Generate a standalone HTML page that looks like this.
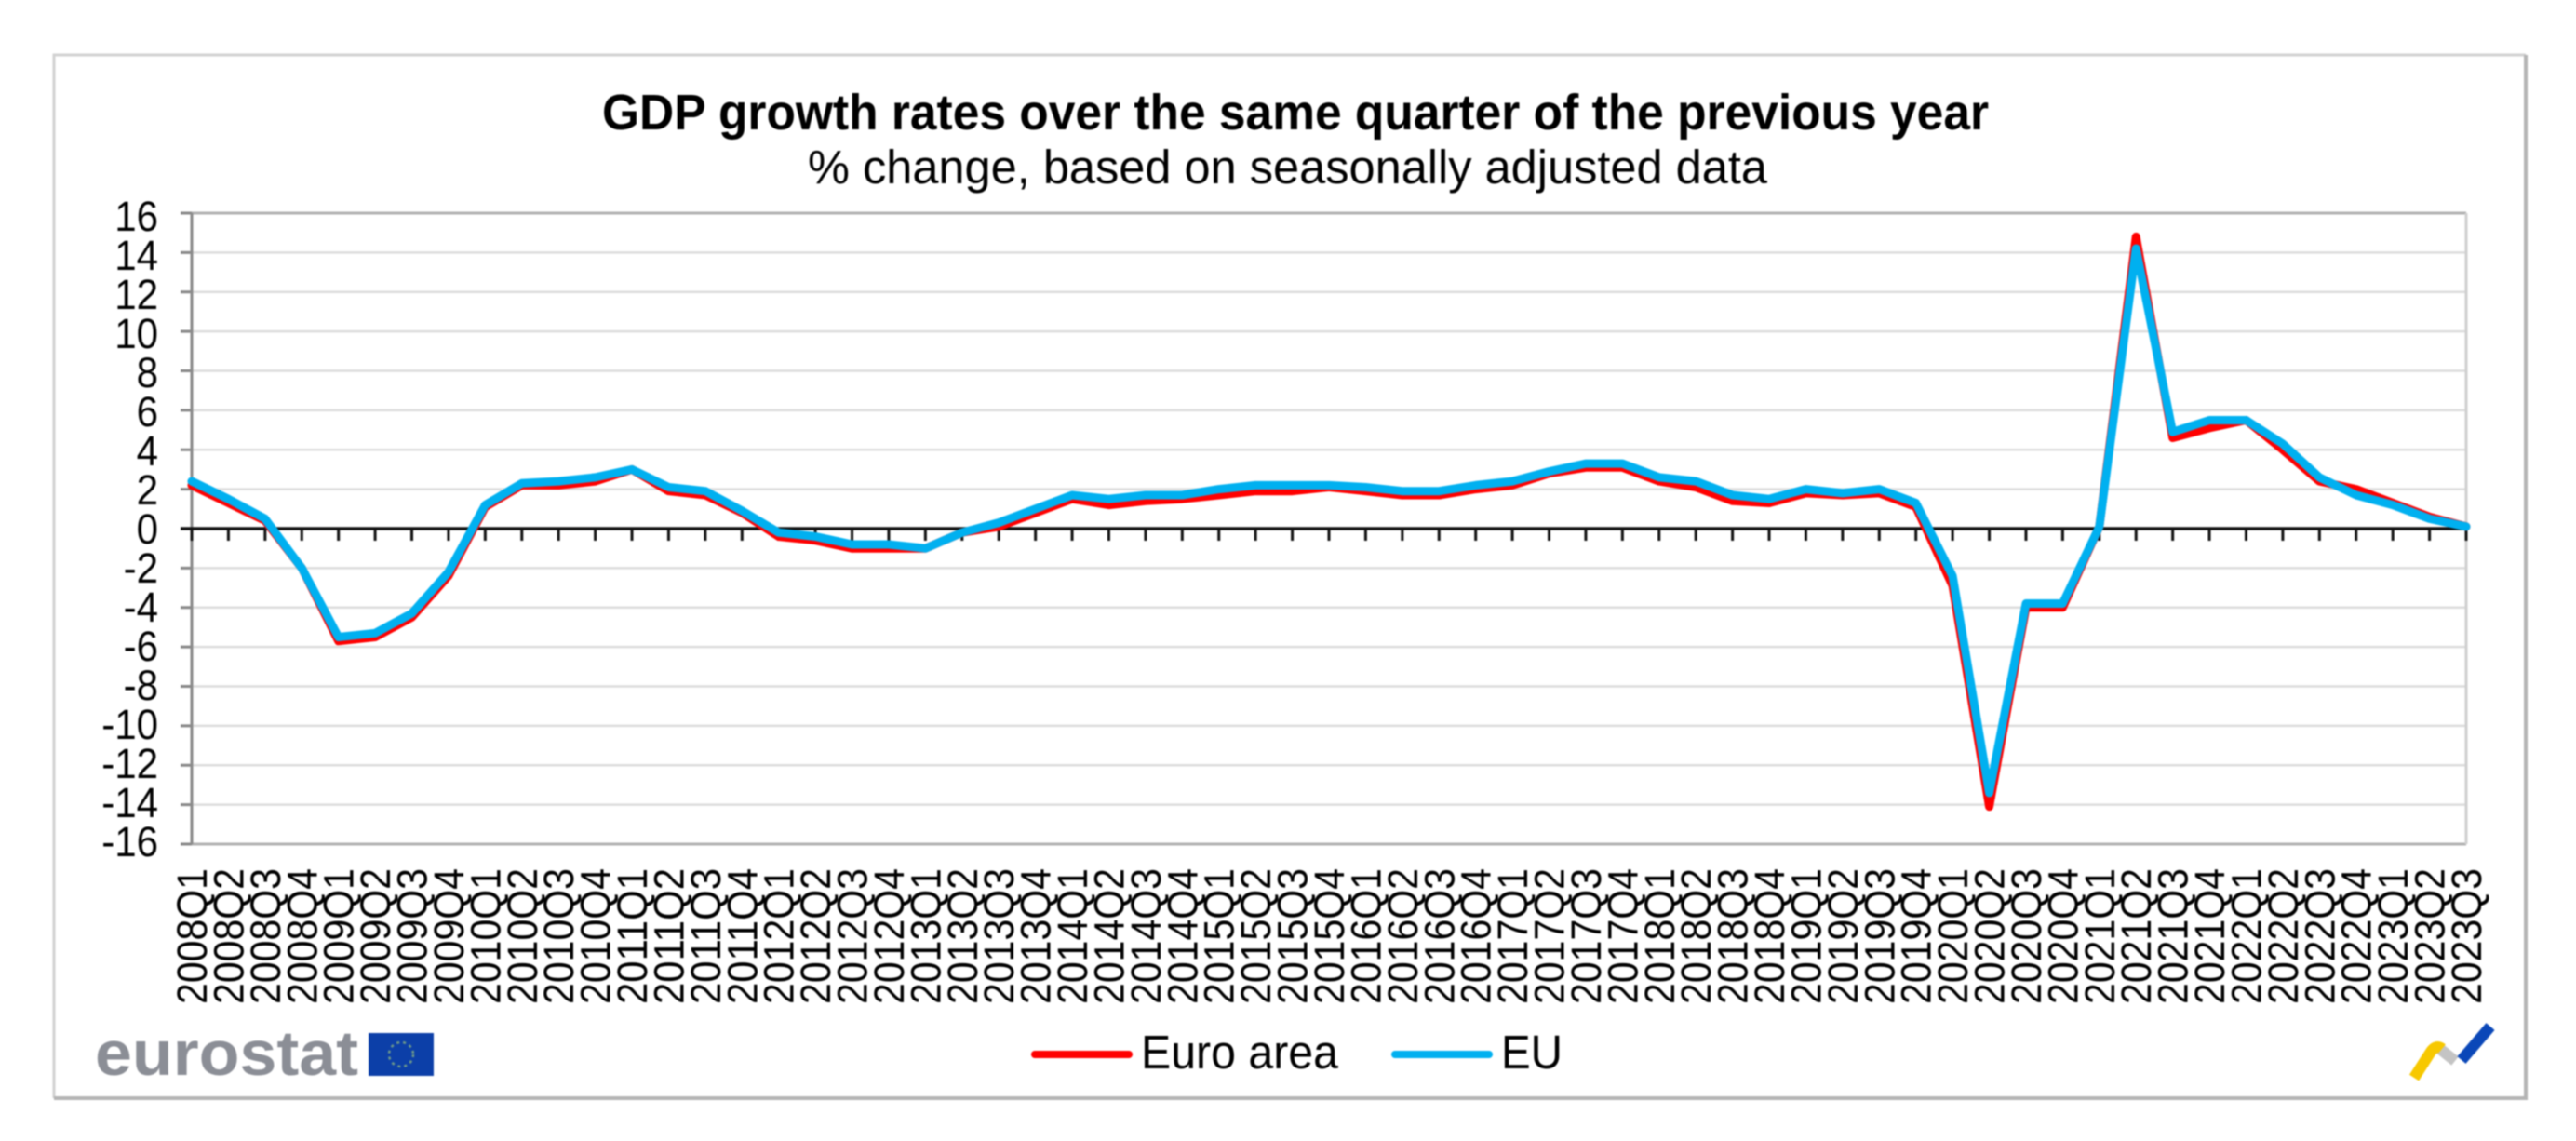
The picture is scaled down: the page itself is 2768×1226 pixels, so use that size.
<!DOCTYPE html>
<html lang="en">
<head>
<meta charset="utf-8">
<title>GDP growth rates over the same quarter of the previous year</title>
<style>
html,body{margin:0;padding:0;background:#fff;width:2768px;height:1226px;overflow:hidden}
svg{display:block;filter:blur(0.9px)}
text{font-family:"Liberation Sans",Arial,sans-serif;fill:#000}
</style>
</head>
<body>
<svg id="chart" xmlns="http://www.w3.org/2000/svg" width="2768" height="1226" viewBox="0 0 2768 1226">
  <rect x="0" y="0" width="2768" height="1226" fill="#fff"/>
  <g fill="none">
    <path d="M58 1180V59H2714" stroke="#d2d2d2" stroke-width="3"/>
    <path d="M2714 59V1180H58" stroke="#b4b4b4" stroke-width="4"/>
  </g>
  <text x="647" y="139" font-size="54" font-weight="700" textLength="1490" lengthAdjust="spacingAndGlyphs">GDP growth rates over the same quarter of the previous year</text>
  <text x="868" y="197" font-size="51" textLength="1031" lengthAdjust="spacingAndGlyphs">% change, based on seasonally adjusted data</text>
  <g id="grid"></g>
  <g id="yaxis"></g>
  <g id="xaxis"></g>
  <g id="series"></g>
  <g>
    <g>
      <line x1="1112" y1="1133" x2="1213" y2="1133" stroke="#ff0000" stroke-width="8" stroke-linecap="round"/>
      <text x="1226" y="1148" font-size="51" textLength="212" lengthAdjust="spacingAndGlyphs">Euro area</text>
    </g>
    <g>
      <line x1="1499" y1="1133" x2="1600" y2="1133" stroke="#00b0f0" stroke-width="8" stroke-linecap="round"/>
      <text x="1613" y="1148" font-size="51" textLength="66" lengthAdjust="spacingAndGlyphs">EU</text>
    </g>
  </g>
  <g>
    <text x="102" y="1155" font-size="68" font-weight="700" textLength="283" lengthAdjust="spacingAndGlyphs" style="fill:#8b8e96">eurostat</text>
    <rect x="396" y="1110" width="70" height="46" fill="#0c3fa8"/>
    <circle cx="431" cy="1133" r="13" fill="none" stroke="#6f9a8a" stroke-width="2.5" stroke-dasharray="3 4"/>
  </g>
  <g fill="none" stroke-width="12">
    <path d="M2618 1124L2638 1140" stroke="#c4c4c4"/>
    <path d="M2594 1158L2612 1130Q2618 1122 2624 1127" stroke="#f7c800"/>
    <path d="M2645 1139L2676 1103" stroke="#0a47b8"/>
  </g>
</svg>
<script>
var categories = ["2008Q1","2008Q2","2008Q3","2008Q4","2009Q1","2009Q2","2009Q3","2009Q4","2010Q1","2010Q2","2010Q3","2010Q4","2011Q1","2011Q2","2011Q3","2011Q4","2012Q1","2012Q2","2012Q3","2012Q4","2013Q1","2013Q2","2013Q3","2013Q4","2014Q1","2014Q2","2014Q3","2014Q4","2015Q1","2015Q2","2015Q3","2015Q4","2016Q1","2016Q2","2016Q3","2016Q4","2017Q1","2017Q2","2017Q3","2017Q4","2018Q1","2018Q2","2018Q3","2018Q4","2019Q1","2019Q2","2019Q3","2019Q4","2020Q1","2020Q2","2020Q3","2020Q4","2021Q1","2021Q2","2021Q3","2021Q4","2022Q1","2022Q2","2022Q3","2022Q4","2023Q1","2023Q2","2023Q3"];
var euroArea = [2.2,1.3,0.4,-2.0,-5.7,-5.5,-4.5,-2.4,1.1,2.2,2.2,2.4,3.0,1.9,1.7,0.8,-0.4,-0.6,-1.0,-1.0,-1.0,-0.2,0.1,0.8,1.5,1.2,1.4,1.5,1.7,1.9,1.9,2.1,1.9,1.7,1.7,2.0,2.2,2.8,3.1,3.1,2.4,2.1,1.4,1.3,1.8,1.7,1.8,1.1,-2.9,-14.1,-4.0,-4.0,0.1,14.8,4.6,5.1,5.5,4.0,2.4,2.0,1.3,0.6,0.1];
var eu = [2.4,1.5,0.5,-2.0,-5.5,-5.3,-4.3,-2.2,1.2,2.3,2.4,2.6,3.0,2.1,1.9,0.9,-0.2,-0.4,-0.8,-0.8,-1.0,-0.2,0.3,1.0,1.7,1.5,1.7,1.7,2.0,2.2,2.2,2.2,2.1,1.9,1.9,2.2,2.4,2.9,3.3,3.3,2.6,2.4,1.7,1.5,2.0,1.8,2.0,1.3,-2.4,-13.4,-3.8,-3.8,0.1,14.2,4.9,5.5,5.5,4.3,2.6,1.7,1.2,0.5,0.1];
var yTicks = [16,14,12,10,8,6,4,2,0,-2,-4,-6,-8,-10,-12,-14,-16];

var SVGNS = 'http://www.w3.org/2000/svg';
var plotLeft = 206, plotRight = 2650, plotTop = 229, plotBottom = 907;
var yMin = -16, yMax = 16;

function xScale(i) { return plotLeft + i * (plotRight - plotLeft) / (categories.length - 1); }
function yScale(v) { return plotTop + (yMax - v) * (plotBottom - plotTop) / (yMax - yMin); }
function mk(tag, parent, attrs) {
  var el = document.createElementNS(SVGNS, tag);
  for (var k in attrs) { el.setAttribute(k, attrs[k]); }
  parent.appendChild(el);
  return el;
}
function yLabelWidth(s) {
  var w = 0;
  for (var i = 0; i < s.length; i++) { w += s[i] === '-' ? 14 : 23.4; }
  return w;
}

var grid = document.getElementById('grid');
var yaxis = document.getElementById('yaxis');
var xaxis = document.getElementById('xaxis');
var seriesGroup = document.getElementById('series');

yTicks.forEach(function (v) {
  var y = yScale(v);
  if (v !== 0) {
    var edge = v === yMax || v === yMin;
    var g = mk('line', grid, {x1: plotLeft, x2: plotRight, y1: y, y2: y, stroke: edge ? '#b0b0b0' : '#dcdcdc', 'stroke-width': edge ? 3 : 2.5});
    
    
  }
  var t = mk('line', yaxis, {x1: plotLeft - 12, x2: plotLeft, y1: y, y2: y, stroke: '#888', 'stroke-width': 3});
  
  
  var s = String(v);
  var w = yLabelWidth(s);
  var label = mk('text', yaxis, {x: 170 - w, y: y + 16 + v * 0.2, 'font-size': 45, textLength: w, lengthAdjust: 'spacingAndGlyphs'});
  
  
  label.textContent = s;
});

var rightEdge = mk('line', grid, {x1: plotRight, x2: plotRight, y1: plotTop, y2: plotBottom, stroke: '#cfcfcf', 'stroke-width': 3});



var yLine = mk('line', yaxis, {x1: plotLeft, x2: plotLeft, y1: plotTop, y2: plotBottom, stroke: '#8a8a8a', 'stroke-width': 3});



var zeroLine = mk('line', xaxis, {x1: plotLeft - 12, x2: plotRight, y1: yScale(0), y2: yScale(0), stroke: '#111', 'stroke-width': 3.5});



categories.forEach(function (c, i) {
  var x = xScale(i);
  var tick = mk('line', xaxis, {x1: x, x2: x, y1: yScale(0), y2: yScale(0) + 13, stroke: '#111', 'stroke-width': 3});
  
  
  var label = mk('text', xaxis, {x: 0, y: 0, 'font-size': 45, 'text-anchor': 'start', transform: 'translate(' + (x + 16) + ',1079) rotate(-90)', textLength: 146, lengthAdjust: 'spacingAndGlyphs'});
  
  
  label.textContent = c;
});

function linePoints(values) {
  return values.map(function (v, i) { return xScale(i).toFixed(1) + ',' + yScale(v).toFixed(1); }).join(' ');
}

var euroLine = mk('polyline', seriesGroup, {points: linePoints(euroArea), fill: 'none', stroke: '#ff0000', 'stroke-width': 9, 'stroke-linejoin': 'round', 'stroke-linecap': 'round'});



var euLine = mk('polyline', seriesGroup, {points: linePoints(eu), fill: 'none', stroke: '#00b0f0', 'stroke-width': 9, 'stroke-linejoin': 'round', 'stroke-linecap': 'round'});


</script>
</body>
</html>
